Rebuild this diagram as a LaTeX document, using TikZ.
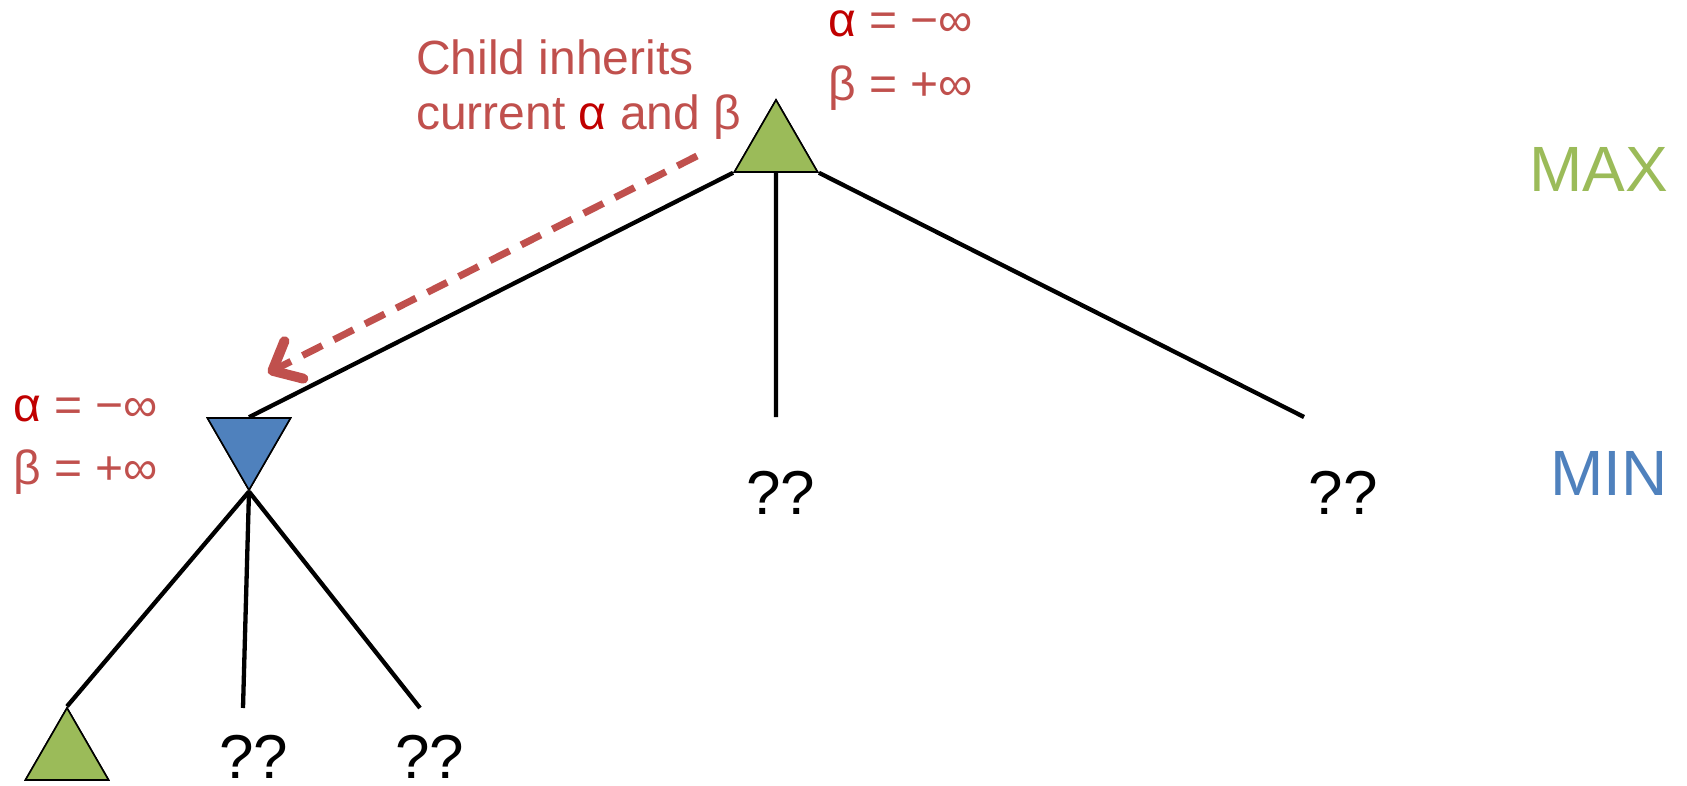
\documentclass[tikz,border=0pt]{standalone}
\usepackage{fontspec}
\setmainfont{Liberation Sans}
\usetikzlibrary{shapes.geometric,arrows.meta,calc}
\definecolor{maxgreen}{HTML}{9BBB59}
\definecolor{minblue}{HTML}{4F81BD}
\definecolor{lblred}{HTML}{C0504D}
\definecolor{alpred}{HTML}{C00000}
\tikzset{
  tri/.style={regular polygon, regular polygon sides=3, minimum size=96pt, inner sep=0pt, draw=black, line width=1.6pt},
  maxnode/.style={tri, fill=maxgreen},
  minnode/.style={tri, fill=minblue, shape border rotate=180},
  edge/.style={line width=4.3pt, black},
  qq/.style={anchor=base, inner sep=0pt, font=\fontsize{62}{70}\selectfont},
  lvl/.style={anchor=base east, inner sep=0pt, font=\fontsize{64}{72}\selectfont},
  redtxt/.style={anchor=base west, inner sep=0pt, text=lblred, font=\fontsize{48}{56}\selectfont},
  inherit/.style={draw=lblred, line width=7pt, dash pattern=on 22pt off 13pt, -{Straight Barb[length=24pt, width=42pt, round, line width=10pt]}}
}
\newcommand{\al}{\textcolor{alpred}{α}}
\begin{document}
\begin{tikzpicture}[x=1pt,y=-1pt]
\useasboundingbox (0,0) rectangle (1687,786);
% nodes
\node[maxnode] (root) at (776,148) {};
\node[minnode] (mn) at (249,442) {};
\node[maxnode] (leaf) at (67,756) {};
% free ends
\coordinate (midend) at (776,417);
\coordinate (rightend) at (1304,417);
\coordinate (b2end) at (243,708);
\coordinate (b3end) at (420,708);
\coordinate (rootbase) at ($(root.corner 2)!0.5!(root.corner 3)$);
\coordinate (mntop) at ($(mn.corner 2)!0.5!(mn.corner 3)$);
% edges
\draw[edge] (root.corner 2) -- (mntop);
\draw[edge] (rootbase) -- (midend);
\draw[edge] (root.corner 3) -- (rightend);
\draw[edge] (mn.corner 1) -- (leaf.corner 1);
\draw[edge] (mn.corner 1) -- (b2end);
\draw[edge] (mn.corner 1) -- (b3end);
% redraw triangles on top
\node[maxnode] at (776,148) {};
\node[minnode] at (249,442) {};
\node[maxnode] at (67,756) {};
% labels
\node[qq] (q1) at (781,514) {??};
\node[qq] (q2) at (1343,514) {??};
\node[qq] (q3) at (254,778) {??};
\node[qq] (q4) at (430,778) {??};
\node[lvl, text=maxgreen] (maxlbl) at (1668,192) {MAX};
\node[lvl, text=minblue] (minlbl) at (1668,495) {MIN};
% alpha beta labels
\node[redtxt] (ra) at (828,37) {\al{} = −∞};
\node[redtxt] (rb) at (828,101) {β = +∞};
\node[redtxt] (la) at (13,421) {\al{} = −∞};
\node[redtxt] (lb) at (13,484) {β = +∞};
\node[redtxt] (c1) at (416,75) {Child inherits};
\node[redtxt] (c2) at (416,130) {current \al{} and β};
% inherit arrow
\coordinate (arrstart) at (697,156);
\coordinate (arrend) at (268,373);
\draw[inherit] (arrstart) -- (arrend);
\end{tikzpicture}
\end{document}
